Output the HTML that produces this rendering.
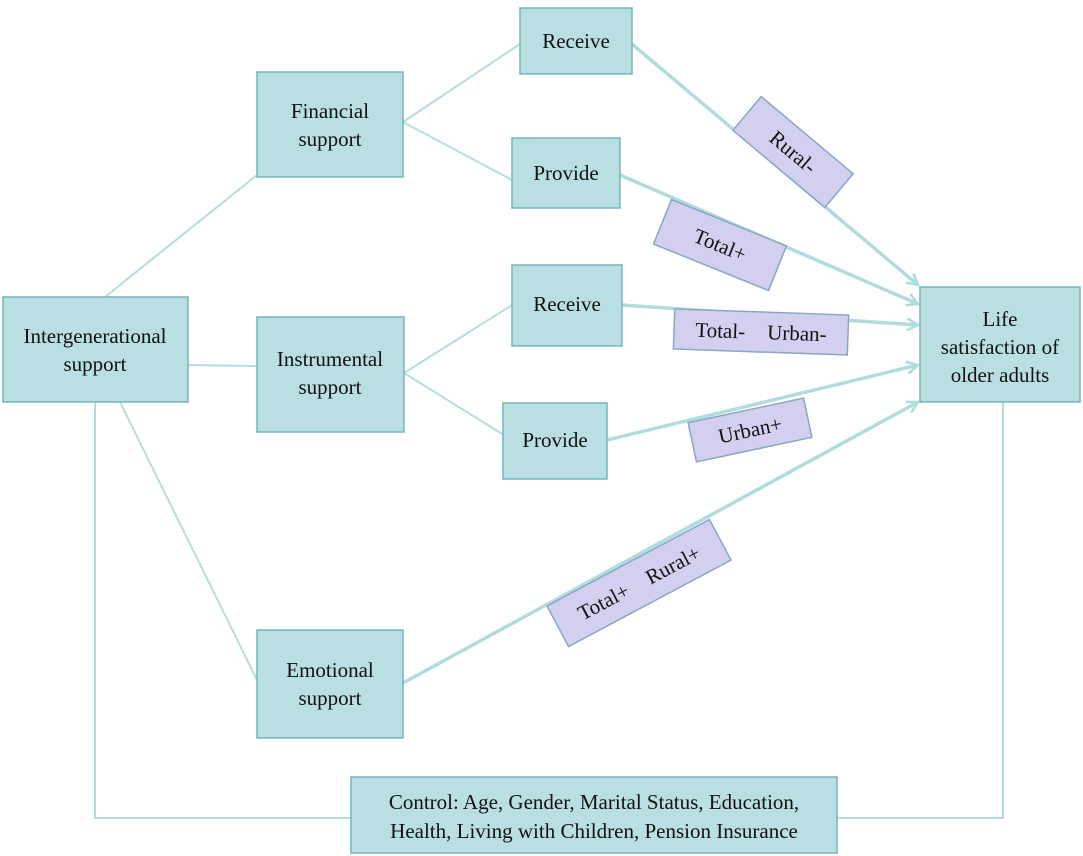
<!DOCTYPE html>
<html><head><meta charset="utf-8"><style>
html,body{margin:0;padding:0;background:#fff;}
svg{display:block;}
text{font-family:"Liberation Serif",serif;font-size:21px;fill:#111;white-space:pre;}
.b{fill:#b9dfe2;stroke:#74b6bb;stroke-width:1.5;}
.l{fill:#d3cfef;stroke:#8aa6c6;stroke-width:1.5;}
.c{stroke:#b5dede;stroke-width:2;fill:none;}
.a{stroke:#b0dcdc;stroke-width:3.5;fill:none;}
</style></head><body>
<svg width="1083" height="856" viewBox="0 0 1083 856">
<defs><marker id="m" markerWidth="14" markerHeight="14" refX="12" refY="7" orient="auto" markerUnits="userSpaceOnUse"><path d="M1,1 L12,7 L1,13" fill="none" stroke="#b0dcdc" stroke-width="2.5"/></marker></defs>
<line class="c" x1="105" y1="297" x2="257" y2="175"/>
<line class="c" x1="188" y1="365" x2="257" y2="366"/>
<line class="c" x1="120" y1="402" x2="257" y2="680"/>
<polyline class="c" points="95,402 95,818 351,818"/>
<polyline class="c" points="1003,402 1003,818 837,818"/>
<line class="c" x1="403" y1="122" x2="520" y2="44"/>
<line class="c" x1="403" y1="122" x2="512" y2="180"/>
<line class="c" x1="404" y1="373" x2="512" y2="305"/>
<line class="c" x1="404" y1="373" x2="512" y2="440"/>
<line class="a" x1="632" y1="44" x2="918" y2="285" marker-end="url(#m)"/>
<line class="a" x1="620" y1="175" x2="918" y2="304" marker-end="url(#m)"/>
<line class="a" x1="622" y1="305" x2="918" y2="325" marker-end="url(#m)"/>
<line class="a" x1="607" y1="440" x2="918" y2="365" marker-end="url(#m)"/>
<line class="a" x1="403" y1="683" x2="918" y2="402" marker-end="url(#m)"/>
<rect class="b" x="3" y="297" width="185" height="105"/>
<text x="95" y="343" text-anchor="middle">Intergenerational</text><text x="95" y="371" text-anchor="middle">support</text>
<rect class="b" x="257" y="72" width="146" height="105"/>
<text x="330" y="118" text-anchor="middle">Financial</text><text x="330" y="146" text-anchor="middle">support</text>
<rect class="b" x="257" y="317" width="147" height="115"/>
<text x="330" y="366" text-anchor="middle">Instrumental</text><text x="330" y="394" text-anchor="middle">support</text>
<rect class="b" x="257" y="630" width="146" height="108"/>
<text x="330" y="677" text-anchor="middle">Emotional</text><text x="330" y="705" text-anchor="middle">support</text>
<rect class="b" x="520" y="8" width="112" height="66"/>
<text x="576" y="48" text-anchor="middle">Receive</text>
<rect class="b" x="512" y="138" width="108" height="70"/>
<text x="566" y="180" text-anchor="middle">Provide</text>
<rect class="b" x="512" y="265" width="110" height="81"/>
<text x="567" y="311" text-anchor="middle">Receive</text>
<rect class="b" x="503" y="403" width="104" height="76"/>
<text x="555" y="447" text-anchor="middle">Provide</text>
<rect class="b" x="920" y="287" width="160" height="115"/>
<text x="1000" y="326" text-anchor="middle">Life</text><text x="1000" y="354" text-anchor="middle">satisfaction of</text><text x="1000" y="382" text-anchor="middle">older adults</text>
<rect class="b" x="351" y="777" width="486" height="76"/>
<text x="594" y="809" text-anchor="middle">Control: Age, Gender, Marital Status, Education,</text>
<text x="594" y="838" text-anchor="middle">Health, Living with Children, Pension Insurance</text>
<g transform="translate(793,152) rotate(40)"><rect class="l" x="-60" y="-22" width="120" height="44"/><text x="0" y="7" text-anchor="middle">Rural-</text></g>
<g transform="translate(720,245) rotate(22)"><rect class="l" x="-62" y="-24" width="124" height="48"/><text x="0" y="7" text-anchor="middle">Total+</text></g>
<g transform="translate(761,332) rotate(2)"><rect class="l" x="-87" y="-20" width="174" height="40"/><text x="0" y="7" text-anchor="middle">Total-<tspan dx="22">Urban-</tspan></text></g>
<g transform="translate(750,430) rotate(-12)"><rect class="l" x="-59" y="-20" width="118" height="40"/><text x="0" y="7" text-anchor="middle">Urban+</text></g>
<g transform="translate(639,583) rotate(-28)"><rect class="l" x="-92" y="-23" width="184" height="46"/><text x="0" y="7" text-anchor="middle">Total+<tspan dx="22">Rural+</tspan></text></g>
</svg>
</body></html>
